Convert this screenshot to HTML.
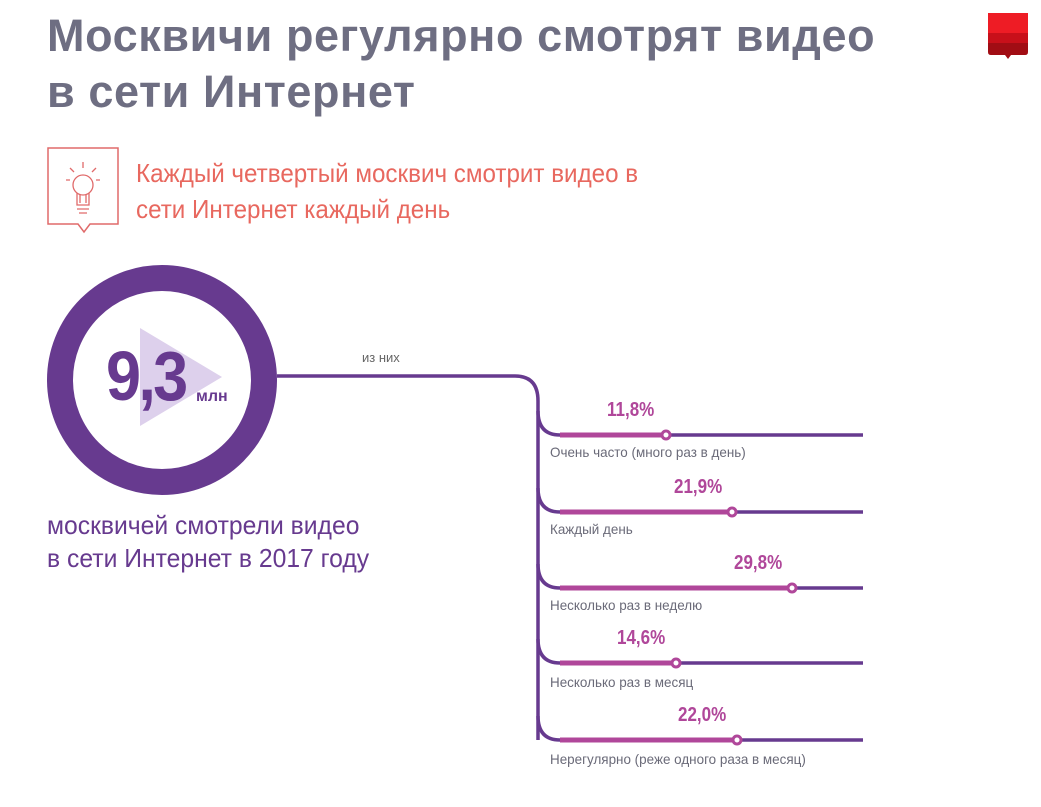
<!DOCTYPE html><html><head><meta charset="utf-8"><style>
body{margin:0;width:1041px;height:807px;background:#fff;font-family:"Liberation Sans",sans-serif;position:relative;overflow:hidden}
.t{position:absolute;white-space:nowrap;transform-origin:left}
.p{font-size:20px;font-weight:bold;color:#b0479a;transform:scaleX(0.85)}
.l{font-size:14px;color:#6a6a78;transform:scaleX(0.96)}
</style></head><body>
<div class="t" style="left:47px;top:8px;font-size:45px;font-weight:bold;color:#6e6e82;line-height:56px;letter-spacing:0.6px">Москвичи регулярно смотрят видео<br>в сети Интернет</div>
<svg style="position:absolute;left:0;top:0" width="1041" height="807">
<rect x="988" y="13" width="40" height="20" fill="#ee1c25"/>
<path d="M988 33h40v10h-14l-2 3-2-3h-22z" fill="#c8101a"/>
<path d="M988 43h40v9q0 3-3 3h-14l-3 4-3-4h-14q-3 0-3-3z" fill="#a10d14"/>
<path d="M48 148h70v76h-28l-6 8-6-8h-30z" fill="none" stroke="#e06a6a" stroke-width="1.5"/>
<g fill="none" stroke="#e06a6a" stroke-width="1.3"><circle cx="83" cy="185" r="10"/><path d="M77 193v12h12v-12M77 209h12M79 213h8M80 195v8M86 195v8M83 162v6M70 168l4 4M96 168l-4 4M66 180h4M96 180h4"/></g>
<circle cx="162" cy="380" r="102" fill="none" stroke="#673a8f" stroke-width="26"/>
<polygon points="140,328 140,426 222,377" fill="#ddd0ec"/>
<g fill="none" stroke="#673a8f" stroke-width="3.5">
<path d="M277 376H515q23 0 23 25V740"/>
<path d="M538 411q0 24 22 24H863M538 488q0 24 22 24H863M538 564q0 24 22 24H863M538 639q0 24 22 24H863M538 716q0 24 22 24H863"/>
</g>
<g stroke="#b0479a" stroke-width="5"><path d="M560 435H666M560 512H732M560 588H792M560 663H676M560 740H737"/></g>
<g fill="#fff" stroke="#b0479a" stroke-width="3"><circle cx="666" cy="435" r="4"/><circle cx="732" cy="512" r="4"/><circle cx="792" cy="588" r="4"/><circle cx="676" cy="663" r="4"/><circle cx="737" cy="740" r="4"/></g>
</svg>
<div class="t" style="left:136px;top:155px;font-size:26px;color:#e8685f;line-height:36px;transform:scaleX(0.93)">Каждый четвертый москвич смотрит видео в<br>сети Интернет каждый день</div>
<div class="t" style="left:106px;top:336px;font-size:70px;font-weight:bold;color:#673a8f;letter-spacing:-3px;transform:scaleX(0.9)">9,3</div>
<div class="t" style="left:196px;top:388px;font-size:16px;font-weight:bold;color:#673a8f">млн</div>
<div class="t" style="left:47px;top:509px;font-size:26px;color:#673a8f;line-height:33px;transform:scaleX(0.95)">москвичей смотрели видео<br>в сети Интернет в 2017 году</div>
<div class="t" style="left:362px;top:350px;font-size:13px;color:#666">из них</div>
<div class="t p" style="left:607px;top:399px">11,8%</div>
<div class="t p" style="left:674px;top:476px">21,9%</div>
<div class="t p" style="left:734px;top:552px">29,8%</div>
<div class="t p" style="left:617px;top:627px">14,6%</div>
<div class="t p" style="left:678px;top:704px">22,0%</div>
<div class="t l" style="left:550px;top:444px">Очень часто (много раз в день)</div>
<div class="t l" style="left:550px;top:521px">Каждый день</div>
<div class="t l" style="left:550px;top:597px">Несколько раз в неделю</div>
<div class="t l" style="left:550px;top:674px">Несколько раз в месяц</div>
<div class="t l" style="left:550px;top:751px">Нерегулярно (реже одного раза в месяц)</div>
</body></html>
